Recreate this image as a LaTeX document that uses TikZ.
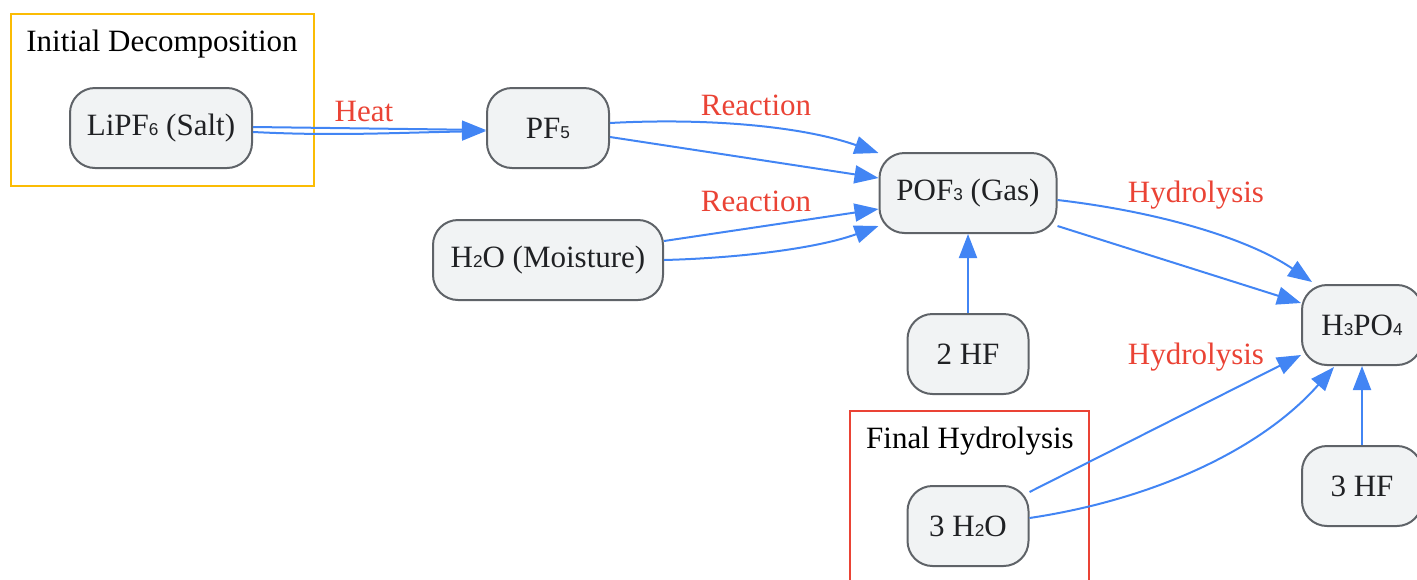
\documentclass[tikz,border=0pt]{standalone}
\usepackage{fontspec}
\setmainfont{Liberation Serif}
\newfontfamily\subdigitfont{Liberation Sans}
\newcommand{\sbd}[1]{{\subdigitfont\fontsize{8.6}{10}\selectfont #1}}
\usetikzlibrary{arrows.meta,calc}
\definecolor{gblue}{HTML}{4285F4}
\definecolor{gred}{HTML}{EA4335}
\definecolor{gorange}{HTML}{FBBC04}
\definecolor{nborder}{HTML}{5F6368}
\definecolor{nfill}{HTML}{F1F3F4}
\definecolor{ntext}{HTML}{202124}
\begin{document}
\begin{tikzpicture}[x=0.5pt,y=-0.5pt,
  font=\fontsize{15.5}{18}\selectfont,
  chem/.style={draw=nborder,fill=nfill,text=ntext,line width=1pt,rounded corners=12.5pt,
    minimum height=40pt,inner sep=0pt},
  rx/.style={-{Triangle[length=12pt,width=9pt]},draw=gblue,line width=1pt},
  elabel/.style={text=gred,inner sep=0pt},
  ctitle/.style={text=black,inner sep=0pt},
  cluster/.style={line width=1pt}]
\useasboundingbox (0,0) rectangle (1417,579);
\clip (0,0) rectangle (1417,579);
% clusters
\draw[cluster,draw=gorange] (11,14) rectangle (314,186);
\node[ctitle] (t1) at (162,44) {Initial Decomposition};
\draw[cluster,draw=gred] (850,411) rectangle (1089,600);
\node[ctitle] (t2) at (970,441) {Final Hydrolysis};
% nodes
\node[chem,minimum width=91pt] (lipf) at (161,128) {LiPF\sbd{6} (Salt)};
\node[chem,minimum width=61pt] (pf5) at (548,128) {PF\sbd{5}};
\node[chem,minimum width=115pt] (h2o) at (548,260) {H\sbd{2}O (Moisture)};
\node[chem,minimum width=88.5pt] (pof3) at (968,193) {POF\sbd{3} (Gas)};
\node[chem,minimum width=60.5pt] (hf2) at (968,354) {2 HF};
\node[chem,minimum width=60pt] (h3po4) at (1362,325) {H\sbd{3}PO\sbd{4}};
\node[chem,minimum width=60pt] (hf3) at (1362,486) {3 HF};
\node[chem,minimum width=60.5pt] (h2o3) at (968,526) {3 H\sbd{2}O};
% edges
\draw[rx] ($(lipf.east)+(0,-1)$) -- ($(pf5.west)+(0,2)$);
\draw[rx] ($(lipf.east)+(0,4)$) .. controls +(80,4) and +(-100,2) .. ($(pf5.west)+(0,3)$);
\node[elabel] (lheat) at (364,111) {Heat};
\draw[rx] ($(pf5.east)+(0,-5)$) .. controls +(91,-5) and +(-80,-28) .. ($(pof3.west)+(0,-40)$);
\draw[rx] ($(pf5.east)+(0,9)$) -- ($(pof3.west)+(0,-15)$);
\node[elabel] (lr1) at (756,105) {Reaction};
\draw[rx] ($(h2o.east)+(0,-19)$) -- ($(pof3.west)+(0,16)$);
\draw[rx] (h2o.east) .. controls +(77,-2) and +(-60,22) .. ($(pof3.west)+(0,33)$);
\node[elabel] (lr2) at (756,201) {Reaction};
\draw[rx] (hf2.north) -- (pof3.south);
\draw[rx] ($(pof3.east)+(0,7)$) .. controls +(103,12) and +(-63,-43) .. ($(h3po4.north west)+(11,-2)$);
\draw[rx] ($(pof3.east)+(0,33)$) -- ($(h3po4.west)+(0,-22)$);
\node[elabel] (lh1) at (1196,195) {Hydrolysis};
\draw[rx] ($(h2o3.east)+(0,-34)$) -- ($(h3po4.west)+(0,30)$);
\draw[rx] ($(h2o3.east)+(0,-8)$) .. controls +(121,-18) and +(-74,84) .. ($(h3po4.south)+(-28,1)$);
\node[elabel] (lh2) at (1196,357) {Hydrolysis};
\draw[rx] (hf3.north) -- (h3po4.south);
\end{tikzpicture}
\end{document}
